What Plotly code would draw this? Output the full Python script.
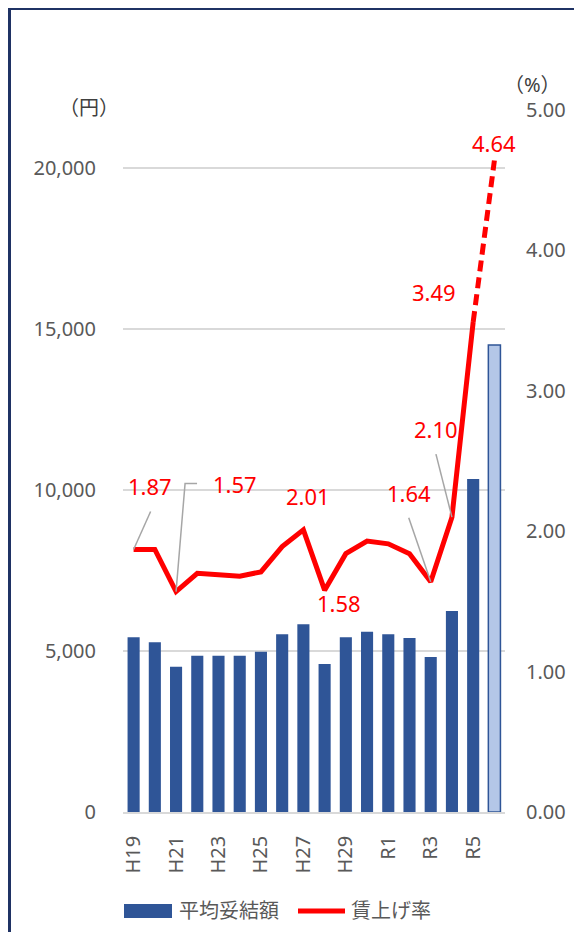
import plotly.graph_objects as go

# ---- data ----
categories = ["H19", "H20", "H21", "H22", "H23", "H24", "H25", "H26", "H27", "H28",
              "H29", "H30", "R1", "R2", "R3", "R4", "R5", "R6"]
amounts = [5425, 5270, 4513, 4854, 4854, 4854, 4979, 5518, 5829, 4596,
           5425, 5600, 5518, 5404, 4814, 6242, 10342, 14503]
rates = [1.87, 1.87, 1.57, 1.70, 1.69, 1.68, 1.71, 1.89, 2.01, 1.58,
         1.84, 1.93, 1.91, 1.84, 1.64, 2.10, 3.49, 4.64]
tick_labels = ["H19", "H21", "H23", "H25", "H27", "H29", "R1", "R3", "R5"]
bar_name = "平均妥結額"
line_name = "賃上げ率"
left_unit = "（円）"
right_unit = "（%）"

# ---- styles ----
DARK = "#2F5597"
LIGHT = "#B4C7E7"
RED = "#FF0000"
GRID = "#D9D9D9"
TICK = "#595959"
FONT = "Noto Sans, Noto Sans CJK JP"

n = len(categories)
bar_fill = [DARK] * (n - 1) + [LIGHT]
bar_line_w = [0] * (n - 1) + [1.5]

solid = rates[:n - 1] + [None]
dashed = [None] * (n - 2) + rates[n - 2:]

fig = go.Figure()
fig.add_trace(go.Bar(x=categories, y=amounts, name=bar_name,
                     marker=dict(color=bar_fill, line=dict(color=DARK, width=bar_line_w)),
                     yaxis="y", showlegend=False))
fig.add_trace(go.Scatter(x=categories, y=solid, name=line_name, mode="lines",
                         line=dict(color=RED, width=5), yaxis="y2",
                         showlegend=False, connectgaps=False))
fig.add_trace(go.Scatter(x=categories, y=dashed, name=line_name, mode="lines",
                         line=dict(color=RED, width=5, dash="11px,6px"), yaxis="y2",
                         showlegend=False, connectgaps=False))

# data labels: (index, xshift, yshift)
label_pos = [(0, 16, 63), (2, 59, 108), (8, 5, 34), (9, 14, -13),
             (14, -22, 89), (15, -16, 88), (16, -39, 30), (17, 0, 18)]
annotations = []
for i, dx, dy in label_pos:
    annotations.append(dict(x=categories[i], y=rates[i], xref="x", yref="y2",
                            text=f"{rates[i]:.2f}", showarrow=False,
                            xshift=dx, yshift=dy,
                            font=dict(color=RED, size=22, family=FONT)))

shapes = []
# leader lines (pixel offsets anchored at data points)
leaders = [(0, "M0,0 L17,38"), (2, "M0,0 L9,108 L21,108"),
           (14, "M0,0 L-22,64"), (15, "M0,0 L-16,63")]
for i, path in leaders:
    shapes.append(dict(type="path", xref="x", yref="y2", xsizemode="pixel",
                       ysizemode="pixel", xanchor=categories[i], yanchor=rates[i],
                       path=path, line=dict(color="#A6A6A6", width=1.5)))

# plot area in screen px: x 123..505, y 110..812
def px_x(p):
    return (p - 123) / 382.0

def px_y(p):
    return (812 - p) / 702.0

# axis unit titles
annotations.append(dict(x=px_x(89), y=px_y(108), xref="paper", yref="paper",
                        text=left_unit, showarrow=False, xanchor="center",
                        yanchor="middle",
                        font=dict(size=20, color="#404040", family=FONT)))
annotations.append(dict(x=px_x(532), y=px_y(84), xref="paper", yref="paper",
                        text=right_unit, showarrow=False, xanchor="center",
                        yanchor="middle",
                        font=dict(size=20, color="#404040", family=FONT)))

# custom legend
shapes.append(dict(type="rect", xref="paper", yref="paper",
                   x0=px_x(124), x1=px_x(172), y0=px_y(918), y1=px_y(904),
                   fillcolor=DARK, line=dict(width=0)))
shapes.append(dict(type="line", xref="paper", yref="paper",
                   x0=px_x(298), x1=px_x(345), y0=px_y(911), y1=px_y(911),
                   line=dict(color=RED, width=5)))
annotations.append(dict(x=px_x(177), y=px_y(910), xref="paper", yref="paper",
                        text=bar_name, showarrow=False, xanchor="left",
                        yanchor="middle",
                        font=dict(size=20, color=TICK, family=FONT)))
annotations.append(dict(x=px_x(349), y=px_y(910), xref="paper", yref="paper",
                        text=line_name, showarrow=False, xanchor="left",
                        yanchor="middle",
                        font=dict(size=20, color=TICK, family=FONT)))

# outer border
shapes.append(dict(type="rect", xref="paper", yref="paper",
                   x0=px_x(9.5), x1=px_x(700), y0=px_y(1100), y1=px_y(8.5),
                   line=dict(color="#1F3264", width=3), fillcolor="rgba(0,0,0,0)",
                   layer="above"))

# the page body has an 8px margin, so the figure starts at (8, 8)
fig.update_layout(
    width=574, height=924,
    margin=dict(l=115, r=77, t=102, b=120),
    paper_bgcolor="white", plot_bgcolor="white",
    font=dict(family=FONT, size=20, color=TICK),
    bargap=0.43,
    showlegend=False,
    xaxis=dict(type="category", tickmode="array", tickvals=tick_labels,
               ticktext=tick_labels, tickangle=-90, showgrid=False,
               showline=True, linecolor=GRID, linewidth=1.5,
               ticks="", ticklabelstandoff=14,
               tickfont=dict(size=20, color=TICK), range=[-0.5, n - 0.5]),
    yaxis=dict(range=[0, 21800], tickvals=[0, 5000, 10000, 15000, 20000],
               ticktext=["0", "5,000", "10,000", "15,000", "20,000"],
               showgrid=True, gridcolor=GRID, gridwidth=1.5, zeroline=False,
               showline=False, ticklabelstandoff=26,
               tickfont=dict(size=20, color=TICK)),
    yaxis2=dict(range=[0, 5], overlaying="y", side="right",
                tickvals=[0, 1, 2, 3, 4, 5],
                ticktext=["0.00", "1.00", "2.00", "3.00", "4.00", "5.00"],
                showgrid=False, zeroline=False, showline=False,
                ticklabelstandoff=20, tickfont=dict(size=20, color=TICK)),
    annotations=annotations,
    shapes=shapes,
)

fig.write_html("out.html")
